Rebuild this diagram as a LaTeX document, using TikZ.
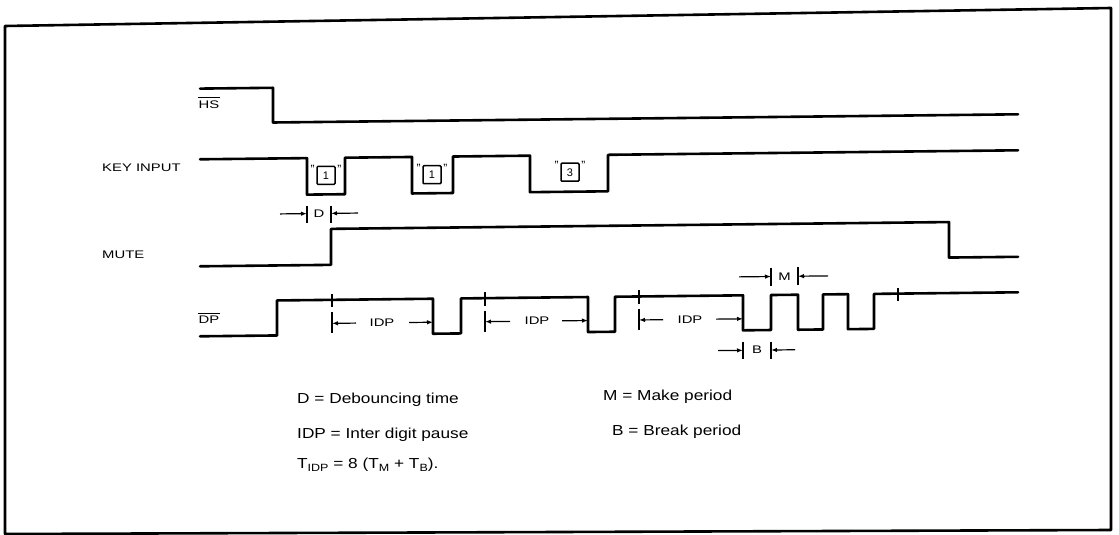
\documentclass[tikz,border=0pt]{standalone}
\usepackage{fontspec}
\setmainfont{Liberation Sans}
\newfontfamily\lblfont{Liberation Sans}[FakeStretch=1.35]
\newfontfamily\legfont{Liberation Sans}[FakeStretch=1.19]
\usetikzlibrary{arrows.meta}
\newcommand\mysub[1]{\raisebox{-3.5pt}{\fontsize{10.5}{12}\selectfont #1}}
\begin{document}
\begin{tikzpicture}[x=1pt,y=-1pt,
  wave/.style={line width=2.6pt,line join=round,line cap=round},
  dimarrow/.style={line width=1.2pt,-{Latex[length=6pt,width=4.5pt]}},
  tickline/.style={line width=1.5pt},
  ovl/.style={line width=1pt},
  lbl/.style={font=\lblfont\fontsize{11}{13}\selectfont,inner sep=0pt},
  leg/.style={font=\legfont\fontsize{14.5}{17}\selectfont,inner sep=0pt,anchor=base west},
  keybox/.style={draw,line width=1.5pt,minimum size=18pt,inner sep=0pt,rounded corners=1pt,font=\fontsize{11}{13}\selectfont},
  quotemark/.style={inner sep=0pt,font=\fontsize{12}{13}\selectfont}
]
\useasboundingbox (0,0) rectangle (1119,535);
% frame
\draw[line width=2.6pt,line join=round] (5,26) -- (1111,8) -- (1111,530) -- (5,534) -- cycle;

% signal names
\node[lbl] (hs) at (209,104.5) {HS};
\draw[ovl] ([yshift=3pt]hs.north west) -- ([yshift=3pt]hs.north east);
\node[lbl,anchor=west] (key) at (102,168) {KEY INPUT};
\node[lbl,anchor=west] (mute) at (102,255) {MUTE};
\node[lbl] (dp) at (209,320) {DP};
\draw[ovl] ([yshift=3pt]dp.north west) -- ([yshift=3pt]dp.north east);

\begin{scope}[cm={1,0.011,0,1,(0,0)}]
% HS
\draw[wave] (200,90.8) -- (273,90.8) -- (273,125.5) -- (1018,125.5);
% KEY INPUT
\draw[wave] (200,161.5) -- (307,161.5) -- (307,198) -- (345,198) -- (345,161.5)
  -- (412,161.5) -- (412,198) -- (453,198) -- (453,161.5)
  -- (530,161.5) -- (530,198) -- (608,198) -- (608,161.5) -- (1018,161.5);
\node[keybox] (b1) at (326,179) {1};
\node[keybox] (b2) at (432,179.5) {1};
\node[keybox] (b3) at (570,178.5) {3};
\foreach \b in {b1,b2,b3}{
  \node[quotemark,anchor=north east] at ([xshift=-1.5pt,yshift=1pt]\b.north west) {\textquotedblright};
  \node[quotemark,anchor=north west] at ([xshift=1.5pt,yshift=1pt]\b.north east) {\textquotedblright};
}
% MUTE
\draw[wave] (200,268.5) -- (331,268.5) -- (331,232.5) -- (949,232.5) -- (949,268) -- (1018,268);
% D dimension
\draw[tickline] (307,209.5) -- (307,226.5);
\draw[tickline] (331,209.5) -- (331,226.5);
\node[lbl] (dl) at (319,217) {D};
\draw[dimarrow] (280,217) -- (307,217);
\draw[dimarrow] (358,217) -- (331,217);
% DP
\draw[wave] (200,338.5) -- (277,338.5) -- (277,303.5) -- (433,303.5) -- (433,338.5)
  -- (461,338.5) -- (461,303.5) -- (588,303.5) -- (588,338.5)
  -- (615,338.5) -- (615,303.5) -- (743,303.5) -- (743,338.5)
  -- (771,338.5) -- (771,303.5) -- (798,303.5) -- (798,338.5)
  -- (823,338.5) -- (823,303.5) -- (848,303.5) -- (848,338.5)
  -- (874,338.5) -- (874,303.5) -- (1018,303.5);
\foreach \x in {332,485,639,898}{
  \draw[tickline] (\x,297.5) -- (\x,311);
}
\foreach \x in {332,485,639}{
  \draw[tickline] (\x,316) -- (\x,337);
}
\node[lbl] (idp1) at (382,327) {IDP};
\node[lbl] (idp2) at (537,327) {IDP};
\node[lbl] (idp3) at (690,327) {IDP};
\draw[dimarrow] (356,327) -- (332,327);
\draw[dimarrow] (409,327) -- (433,327);
\draw[dimarrow] (510,327) -- (485,327);
\draw[dimarrow] (562,327) -- (588,327);
\draw[dimarrow] (663,327) -- (639,327);
\draw[dimarrow] (716,327) -- (743,327);
% M dimension
\draw[tickline] (771,276) -- (771,294);
\draw[tickline] (798,276) -- (798,294);
\node[lbl] (ml) at (784.5,285) {M};
\draw[dimarrow] (739,285) -- (771,285);
\draw[dimarrow] (828,285) -- (798,285);
% B dimension
\draw[tickline] (743,350) -- (743,367);
\draw[tickline] (771,350) -- (771,367);
\node[lbl] (bl) at (757,358.5) {B};
\draw[dimarrow] (718,358.5) -- (743,358.5);
\draw[dimarrow] (795,358.5) -- (771,358.5);
\end{scope}

% legend
\node[leg] (l1) at (297,403) {D = Debouncing time};
\node[leg] (l2) at (297,438) {IDP = Inter digit pause};
\node[leg] (l3) at (297,468) {T\mysub{IDP} = 8 (T\mysub{M} + T\mysub{B}).};
\node[leg] (l4) at (603,400) {M = Make period};
\node[leg] (l5) at (612,435) {B = Break period};
\end{tikzpicture}
\end{document}
